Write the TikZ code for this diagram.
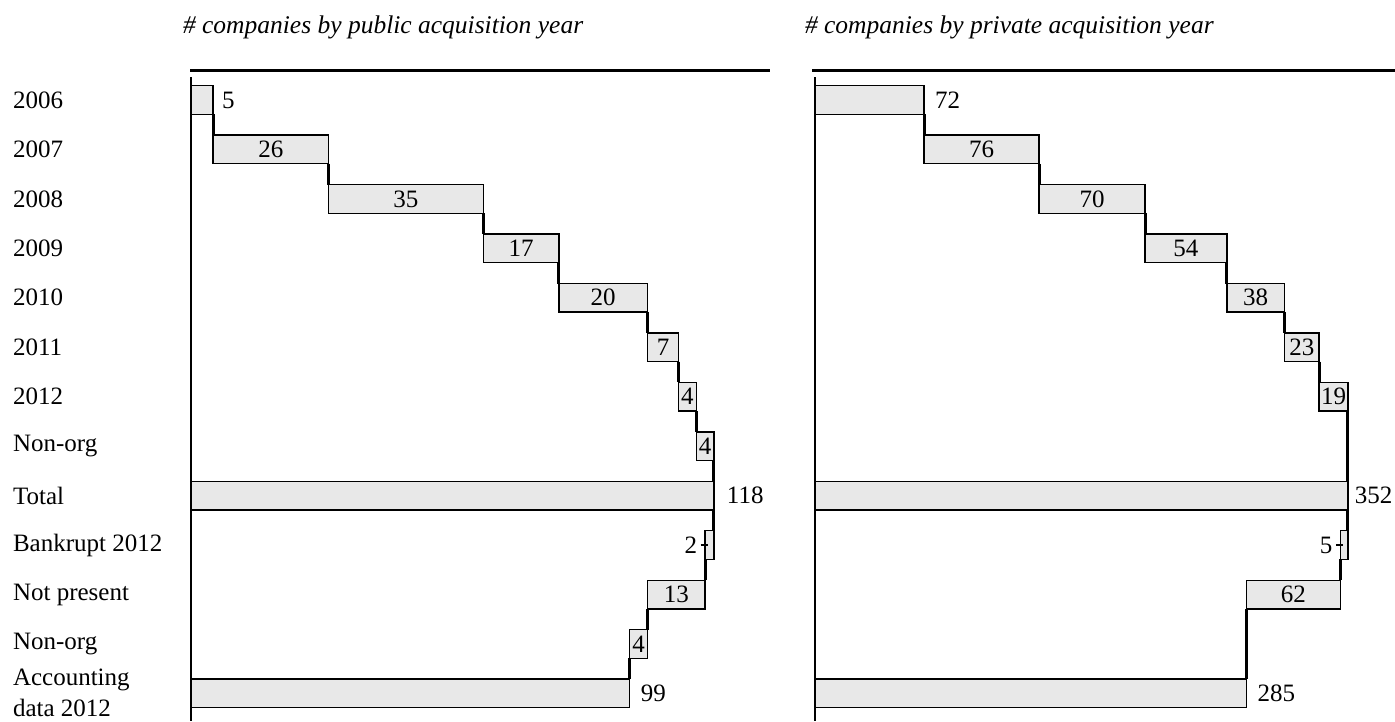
\documentclass[tikz,border=0pt]{standalone}
\usepackage{fontspec}
\setmainfont{Liberation Serif}
\begin{document}
\begin{tikzpicture}[x=1pt,y=-1pt,
  every node/.style={font=\fontsize{25}{29}\selectfont, inner sep=0pt, outer sep=0pt},
  bar/.style={draw=black, line width=1.4pt, fill=black!9, rectangle, anchor=west, minimum height=28.6pt},
  conn/.style={line width=3pt, black},
  axisline/.style={line width=1.4pt, black},
  topline/.style={line width=3pt, black},
  rowlab/.style={anchor=west},
  outlab/.style={anchor=west},
  head/.style={anchor=west, font=\fontsize{25.5}{30}\selectfont\itshape},
  tick/.style={line width=2.6pt, black}
]
\useasboundingbox (0,0) rectangle (1395,721);

% headers and top rules
\node[head] (hpub) at (183,27) {\# companies by public acquisition year};
\node[head] (hpri) at (805,27) {\# companies by private acquisition year};
\coordinate (tl1) at (190,70); \coordinate (tr1) at (770,70);
\coordinate (tl2) at (812,70); \coordinate (tr2) at (1395,70);
\draw[topline] (tl1) -- (tr1);
\draw[topline] (tl2) -- (tr2);

% axes
\coordinate (a1t) at (191,77); \coordinate (a1b) at (191,721);
\coordinate (a2t) at (815,77); \coordinate (a2b) at (815,721);
\draw[axisline] (a1t) -- (a1b);
\draw[axisline] (a2t) -- (a2b);

% row labels
\node[rowlab] (r0) at (13,{100+49.45*0}) {2006};
\node[rowlab] (r1) at (13,{100+49.45*1}) {2007};
\node[rowlab] (r2) at (13,{100+49.45*2}) {2008};
\node[rowlab] (r3) at (13,{100+49.45*3}) {2009};
\node[rowlab] (r4) at (13,{100+49.45*4}) {2010};
\node[rowlab] (r5) at (13,{100+49.45*5}) {2011};
\node[rowlab] (r6) at (13,{100+49.45*6}) {2012};
\node[rowlab] (r7) at (13,{100+49.45*7}) {Non-org};
\node[rowlab] (r8) at (13,{100+49.45*8}) {Total};
\node[rowlab] (r9) at (13,{100+49.45*9}) {Bankrupt 2012};
\node[rowlab] (r10) at (13,{100+49.45*10}) {Not present};
\node[rowlab] (r11) at (13,{100+49.45*11}) {Non-org};
\node[rowlab] (r12a) at (13,680) {Accounting};
\node[rowlab] (r12b) at (13,708) {data 2012};

% ---------- public chart: x0=191, s=4.432 ----------
\node[bar, minimum width={5*4.432pt}]  (p0) at ({191+0*4.432},{100+49.45*0}) {};
\node[bar, minimum width={26*4.432pt}] (p1) at ({191+5*4.432},{100+49.45*1}) {26};
\node[bar, minimum width={35*4.432pt}] (p2) at ({191+31*4.432},{100+49.45*2}) {35};
\node[bar, minimum width={17*4.432pt}] (p3) at ({191+66*4.432},{100+49.45*3}) {17};
\node[bar, minimum width={20*4.432pt}] (p4) at ({191+83*4.432},{100+49.45*4}) {20};
\node[bar, minimum width={7*4.432pt}]  (p5) at ({191+103*4.432},{100+49.45*5}) {7};
\node[bar, minimum width={4*4.432pt}]  (p6) at ({191+110*4.432},{100+49.45*6}) {4};
\node[bar, minimum width={4*4.432pt}]  (p7) at ({191+114*4.432},{100+49.45*7}) {4};
\node[bar, minimum width={118*4.432pt}] (p8) at ({191+0*4.432},{100+49.45*8}) {};
\node[bar, minimum width={2*4.432pt}]  (p9) at ({191+116*4.432},{100+49.45*9}) {};
\node[bar, minimum width={13*4.432pt}] (p10) at ({191+103*4.432},{100+49.45*10}) {13};
\node[bar, minimum width={4*4.432pt}]  (p11) at ({191+99*4.432},{100+49.45*11}) {4};
\node[bar, minimum width={99*4.432pt}] (p12) at ({191+0*4.432},{100+49.45*12}) {};

\node[outlab] (p0l) at ([xshift=9pt]p0.east) {5};
\node[outlab] (p8l) at ([xshift=13pt]p8.east) {118};
\node[outlab] (p12l) at ([xshift=11pt]p12.east) {99};
\node[anchor=east] (p9l) at ([xshift=-8pt]p9.west) {2};
\coordinate (p9ta) at ([xshift=-4.5pt]p9.west);
\coordinate (p9tb) at ([xshift=3pt]p9.west);
\draw[tick] (p9ta) -- (p9tb);

\draw[conn] (p0.south east) -- (p1.north west);
\draw[conn] (p1.south east) -- (p2.north west);
\draw[conn] (p2.south east) -- (p3.north west);
\draw[conn] (p3.south east) -- (p4.north west);
\draw[conn] (p4.south east) -- (p5.north west);
\draw[conn] (p5.south east) -- (p6.north west);
\draw[conn] (p6.south east) -- (p7.north west);
\draw[conn] (p7.south east) -- (p8.north east);
\draw[conn] (p8.south east) -- (p9.north east);
\draw[conn] (p9.south west) -- (p10.north east);
\draw[conn] (p10.south west) -- (p11.north east);
\draw[conn] (p11.south west) -- (p12.north east);

% ---------- private chart: x0=815, s=1.514 ----------
\node[bar, minimum width={72*1.514pt}]  (q0) at ({815+0*1.514},{100+49.45*0}) {};
\node[bar, minimum width={76*1.514pt}]  (q1) at ({815+72*1.514},{100+49.45*1}) {76};
\node[bar, minimum width={70*1.514pt}]  (q2) at ({815+148*1.514},{100+49.45*2}) {70};
\node[bar, minimum width={54*1.514pt}]  (q3) at ({815+218*1.514},{100+49.45*3}) {54};
\node[bar, minimum width={38*1.514pt}]  (q4) at ({815+272*1.514},{100+49.45*4}) {38};
\node[bar, minimum width={23*1.514pt}]  (q5) at ({815+310*1.514},{100+49.45*5}) {23};
\node[bar, minimum width={19*1.514pt}]  (q6) at ({815+333*1.514},{100+49.45*6}) {19};
\node[bar, minimum width={352*1.514pt}] (q8) at ({815+0*1.514},{100+49.45*8}) {};
\node[bar, minimum width={5*1.514pt}]   (q9) at ({815+347*1.514},{100+49.45*9}) {};
\node[bar, minimum width={62*1.514pt}]  (q10) at ({815+285*1.514},{100+49.45*10}) {62};
\node[bar, minimum width={285*1.514pt}] (q12) at ({815+0*1.514},{100+49.45*12}) {};

\node[outlab] (q0l) at ([xshift=11pt]q0.east) {72};
\node[outlab] (q8l) at ([xshift=7pt]q8.east) {352};
\node[outlab] (q12l) at ([xshift=11pt]q12.east) {285};
\node[anchor=east] (q9l) at ([xshift=-8pt]q9.west) {5};
\coordinate (q9ta) at ([xshift=-4.5pt]q9.west);
\coordinate (q9tb) at ([xshift=3pt]q9.west);
\draw[tick] (q9ta) -- (q9tb);

\draw[conn] (q0.south east) -- (q1.north west);
\draw[conn] (q1.south east) -- (q2.north west);
\draw[conn] (q2.south east) -- (q3.north west);
\draw[conn] (q3.south east) -- (q4.north west);
\draw[conn] (q4.south east) -- (q5.north west);
\draw[conn] (q5.south east) -- (q6.north west);
\draw[conn] (q6.south east) -- (q8.north east);
\draw[conn] (q8.south east) -- (q9.north east);
\draw[conn] (q9.south west) -- (q10.north east);
\draw[conn] (q10.south west) -- (q12.north east);
\end{tikzpicture}
\end{document}
